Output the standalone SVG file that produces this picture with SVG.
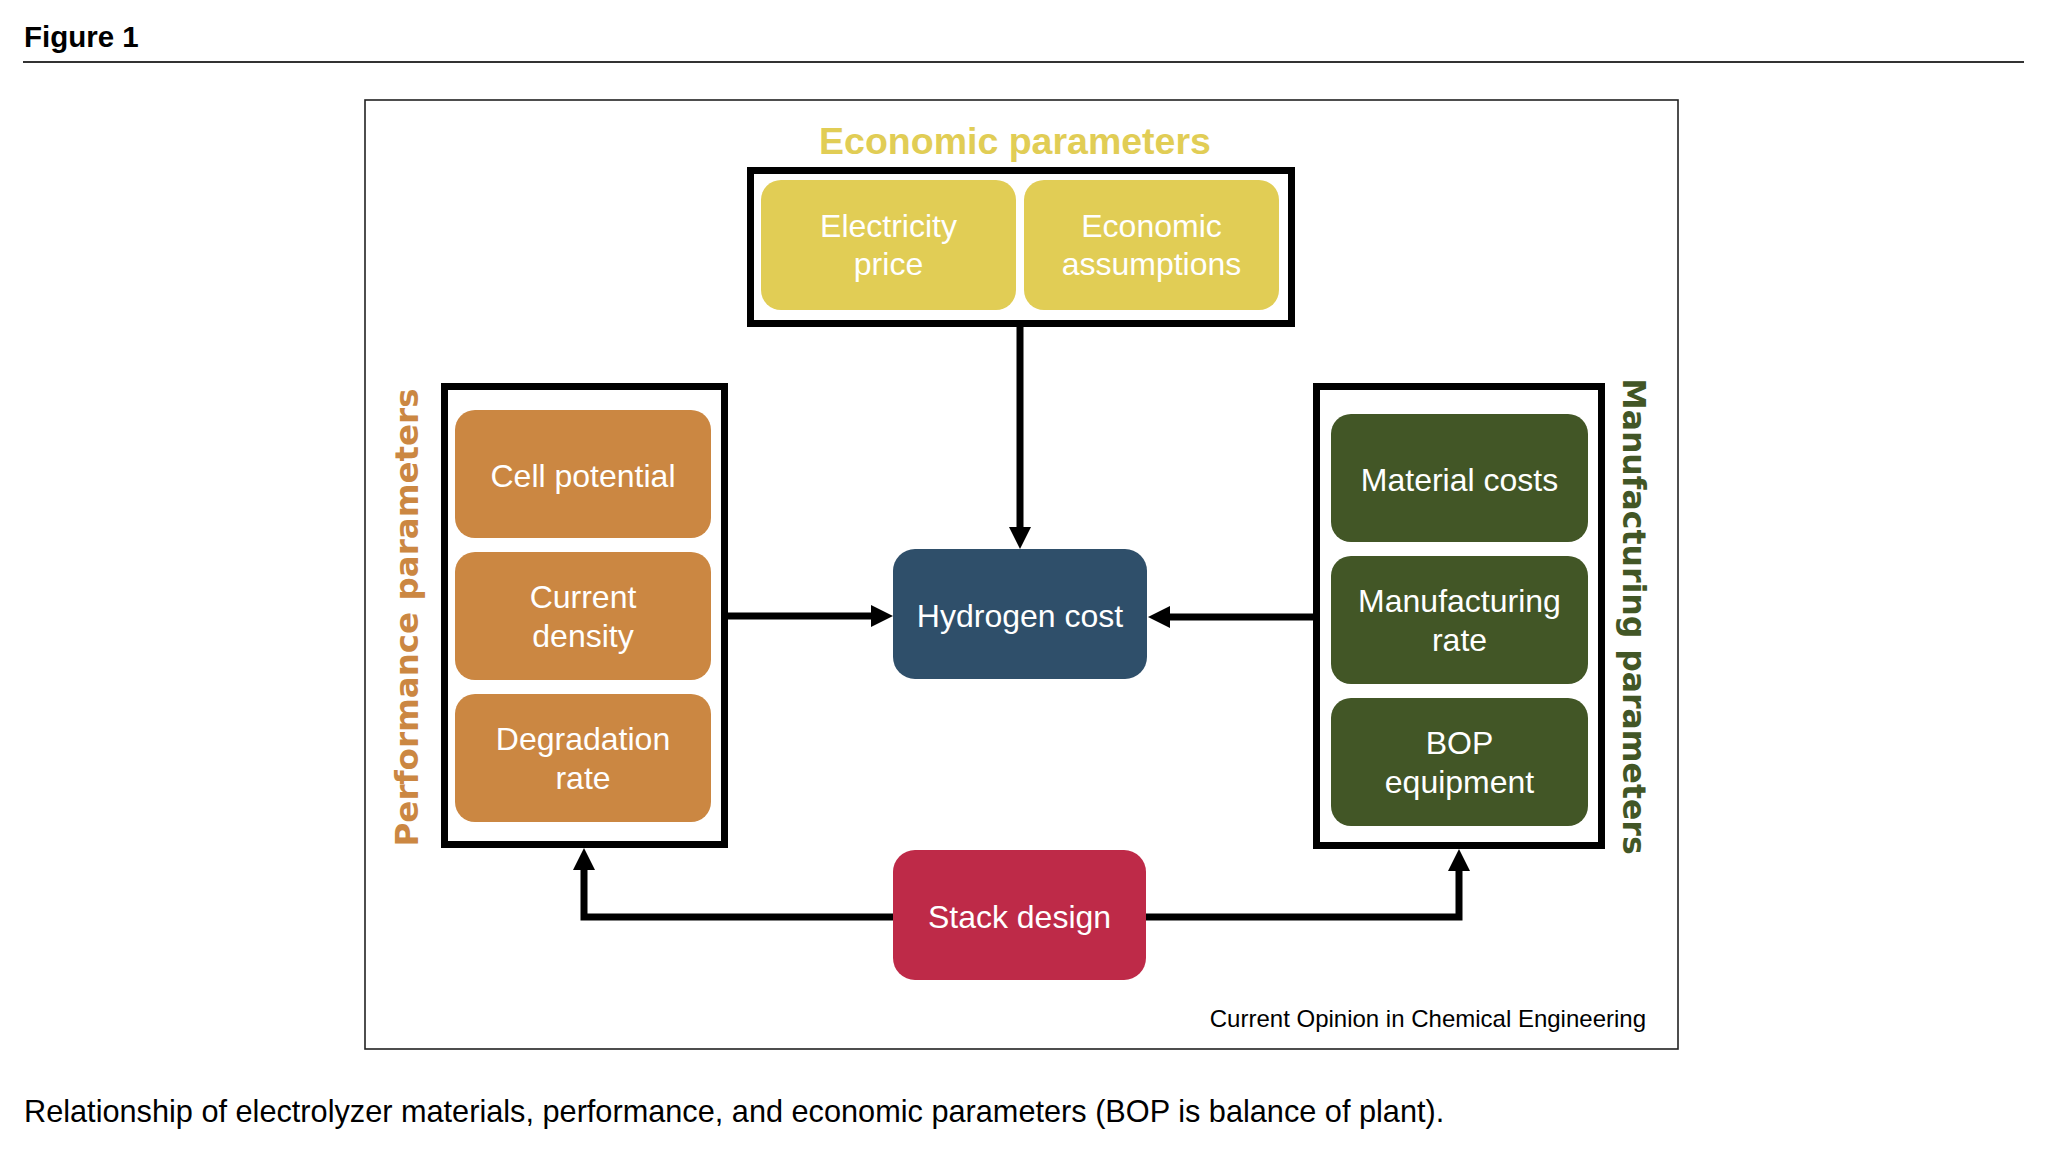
<svg xmlns="http://www.w3.org/2000/svg" width="2050" height="1161" viewBox="0 0 2050 1161">
  <style>
    .lbl { font-family: "Liberation Sans", Arial, sans-serif; font-size: 32px; fill: #ffffff; text-anchor: middle; }
    .grp { fill: none; stroke: #000; stroke-width: 7; }
    .conn { fill: none; stroke: #000; stroke-width: 7; }
    .yel { fill: #E1CD55; }
    .org { fill: #CB8742; }
    .grn { fill: #425626; }
  </style>
  <defs>
    <marker id="ah" markerUnits="userSpaceOnUse" markerWidth="22" markerHeight="22" viewBox="0 0 22 22" refX="10" refY="11" orient="auto">
      <path d="M0,0 L22,11 L0,22 Z" fill="#000"/>
    </marker>
  </defs>
  <rect width="2050" height="1161" fill="#fff"/>

  <text x="24" y="47" font-family="Liberation Sans, Arial, sans-serif" font-weight="bold" font-size="29.5" fill="#000">Figure 1</text>
  <line x1="23" y1="62" x2="2024" y2="62" stroke="#333" stroke-width="2"/>

  <rect x="365" y="100" width="1313" height="949" fill="none" stroke="#222" stroke-width="1.6"/>

  <g id="economic-parameters">
    <text x="1015" y="154" font-family="Liberation Sans, Arial, sans-serif" font-weight="bold" font-size="37.5" fill="#E1CD55" text-anchor="middle">Economic parameters</text>
    <rect class="grp" x="750.5" y="170.5" width="541" height="153"/>
  </g>
  <g id="electricity-price">
    <rect class="yel" x="761" y="180" width="255" height="130" rx="20"/>
    <text class="lbl" x="888.5" y="237">Electricity</text>
    <text class="lbl" x="888.5" y="275">price</text>
  </g>
  <g id="economic-assumptions">
    <rect class="yel" x="1024" y="180" width="255" height="130" rx="20"/>
    <text class="lbl" x="1151.5" y="237">Economic</text>
    <text class="lbl" x="1151.5" y="275">assumptions</text>
  </g>

  <g id="performance-parameters">
    <text transform="translate(418,617.5) rotate(-90)" font-family="DejaVu Sans, sans-serif" font-weight="bold" font-size="32.5" fill="#CB8742" text-anchor="middle">Performance parameters</text>
    <rect class="grp" x="444.5" y="386.5" width="280" height="458"/>
  </g>
  <g id="cell-potential">
    <rect class="org" x="455" y="410" width="256" height="128" rx="20"/>
    <text class="lbl" x="583" y="487">Cell potential</text>
  </g>
  <g id="current-density">
    <rect class="org" x="455" y="552" width="256" height="128" rx="20"/>
    <text class="lbl" x="583" y="608">Current</text>
    <text class="lbl" x="583" y="647">density</text>
  </g>
  <g id="degradation-rate">
    <rect class="org" x="455" y="694" width="256" height="128" rx="20"/>
    <text class="lbl" x="583" y="750">Degradation</text>
    <text class="lbl" x="583" y="789">rate</text>
  </g>

  <g id="manufacturing-parameters">
    <text transform="translate(1623,616.5) rotate(90)" font-family="DejaVu Sans, sans-serif" font-weight="bold" font-size="31.5" fill="#425626" text-anchor="middle">Manufacturing parameters</text>
    <rect class="grp" x="1316.5" y="386.5" width="285" height="459"/>
  </g>
  <g id="material-costs">
    <rect class="grn" x="1331" y="414" width="257" height="128" rx="20"/>
    <text class="lbl" x="1459.5" y="491">Material costs</text>
  </g>
  <g id="manufacturing-rate">
    <rect class="grn" x="1331" y="556" width="257" height="128" rx="20"/>
    <text class="lbl" x="1459.5" y="612">Manufacturing</text>
    <text class="lbl" x="1459.5" y="651">rate</text>
  </g>
  <g id="bop-equipment">
    <rect class="grn" x="1331" y="698" width="257" height="128" rx="20"/>
    <text class="lbl" x="1459.5" y="754">BOP</text>
    <text class="lbl" x="1459.5" y="793">equipment</text>
  </g>

  <g id="hydrogen-cost">
    <rect x="893" y="549" width="254" height="130" rx="22" fill="#2F4F6A"/>
    <text class="lbl" x="1020" y="627">Hydrogen cost</text>
  </g>

  <g id="stack-design">
    <rect x="893" y="850" width="253" height="130" rx="22" fill="#BE2A48"/>
    <text class="lbl" x="1019.5" y="928">Stack design</text>
  </g>

  <g id="connectors">
    <path class="conn" d="M1020,327 L1020,537" marker-end="url(#ah)"/>
    <path class="conn" d="M728,616 L881,616" marker-end="url(#ah)"/>
    <path class="conn" d="M1313,617 L1160,617" marker-end="url(#ah)"/>
    <path class="conn" d="M893,917 L584,917 L584,860" marker-end="url(#ah)"/>
    <path class="conn" d="M1146,917 L1459,917 L1459,861" marker-end="url(#ah)"/>
  </g>

  <text x="1646" y="1027" font-family="Liberation Sans, Arial, sans-serif" font-size="24" fill="#000" text-anchor="end">Current Opinion in Chemical Engineering</text>
  <text x="24" y="1122" font-family="Liberation Sans, Arial, sans-serif" font-size="30.7" fill="#000">Relationship of electrolyzer materials, performance, and economic parameters (BOP is balance of plant).</text>
</svg>
